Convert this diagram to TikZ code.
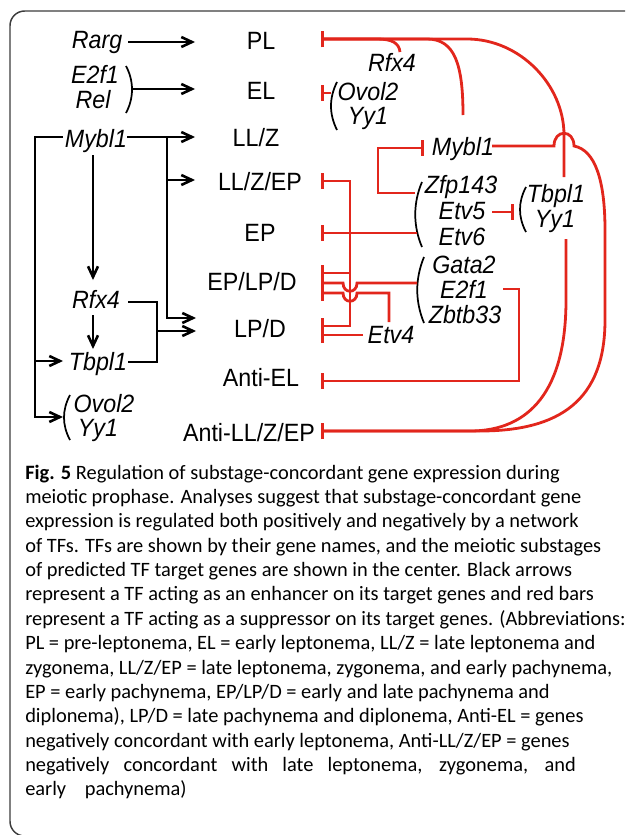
\documentclass[tikz,border=0pt]{standalone}
\usepackage{fontspec}
\setmainfont{Liberation Sans}
\newfontfamily\dfont[FakeStretch=0.93]{Liberation Sans}
\newfontfamily\capfont{Carlito}
\usetikzlibrary{arrows.meta}
\definecolor{tfred}{RGB}{226,38,28}
\definecolor{framegray}{RGB}{60,60,60}
\newcommand\dsz{\fontsize{18.75pt}{22pt}\selectfont}
\newcommand\csz{\fontsize{15.3pt}{18pt}\selectfont}
\tikzset{
 lab/.style={font=\dfont\dsz, inner sep=0pt, anchor=base},
 gene/.style={font=\dfont\dsz\itshape, inner sep=0pt, anchor=base},
 capl/.style={font=\capfont\csz, inner sep=0pt, anchor=base west},
 blk/.style={draw=black, line width=1.95pt},
 enh/.style={blk, -{Straight Barb[length=8pt,width=7.5pt]}},
 rline/.style={draw=tfred, line width=2.1pt},
 sup/.style={rline, -{Bar[width=12pt]}},
 paren/.style={draw=black, line width=1.3pt},
}
\begin{document}
\begin{tikzpicture}[x=0.75pt,y=-0.75pt]
\useasboundingbox (0,0) rectangle (625,835);
\clip (0,0) rectangle (625,835);
% frame
\draw[framegray, line width=1.1pt, rounded corners=11pt] (660,11) -- (10,11) -- (10,836) -- (660,836);

% ---- left TFs
\node[gene] (rarg) at (97,48) {Rarg};
\node[gene] (e2f1L) at (95,83) {E2f1};
\node[gene] (relL) at (93,108) {Rel};
\node[gene] (mybl1L) at (96,147) {Mybl1};
\node[gene] (rfx4L) at (96,308) {Rfx4};
\node[gene] (tbpl1L) at (98,370) {Tbpl1};
\node[gene] (ovol2L) at (104,412) {Ovol2};
\node[gene] (yy1L) at (98,436) {Yy1};

% ---- substages
\node[lab] (pl) at (261,49) {PL};
\node[lab] (el) at (261,99) {EL};
\node[lab] (llz) at (256,146) {LL/Z};
\node[lab] (llzep) at (260,190) {LL/Z/EP};
\node[lab] (ep) at (260,241) {EP};
\node[lab] (eplpd) at (252,290) {EP/LP/D};
\node[lab] (lpd) at (260,337) {LP/D};
\node[lab] (antiel) at (261,386) {Anti-EL};
\node[lab] (antillz) at (249,441) {Anti-LL/Z/EP};

% ---- right TFs
\node[gene] (rfx4R) at (392,71) {Rfx4};
\node[gene] (ovol2R) at (368,100) {Ovol2};
\node[gene] (yy1R) at (368,124) {Yy1};
\node[gene] (mybl1R) at (463,155) {Mybl1};
\node[gene] (zfp143) at (461,193) {Zfp143};
\node[gene] (etv5) at (462,219) {Etv5};
\node[gene] (etv6) at (462,245) {Etv6};
\node[gene] (tbpl1R) at (556,202) {Tbpl1};
\node[gene] (yy1R2) at (555,227) {Yy1};
\node[gene] (gata2) at (464,273) {Gata2};
\node[gene] (e2f1R) at (464,298) {E2f1};
\node[gene] (zbtb33) at (465,323) {Zbtb33};
\node[gene] (etv4) at (391,343) {Etv4};

% ---- parentheses (group brackets)
\draw[paren] (126,66) .. controls (134,81) and (134,98) .. (126,113);
\draw[paren] (70,395) .. controls (62,410) and (62,425) .. (70,440);
\draw[paren] (337,82) .. controls (329,98) and (329,114) .. (337,130);
\draw[paren] (422,182) .. controls (413,203) and (413,226) .. (422,247);
\draw[paren] (424,257) .. controls (415,279) and (415,301) .. (424,323);
\draw[paren] (526,187) .. controls (518,202) and (518,217) .. (526,232);

% ---- black enhancer arrows
\draw[enh] (128,42) -- (195,42);
\draw[enh] (132,89) -- (195,89);
\draw[enh] (127,137) -- (195,137);
\draw[enh] (63,137) -- (35,137) -- (35,417) -- (63,417);
\draw[enh] (35,361) -- (63,361);
\draw[enh] (167,137) -- (167,318) -- (196,318);
\draw[enh] (167,180) -- (195,180);
\draw[enh] (93,155) -- (93,280);
\draw[enh] (93,315) -- (93,349);
\draw[blk] (128,302) -- (157,302) -- (157,362) -- (128,362);
\draw[enh] (157,331) -- (196,331);

% ---- red suppressor bars
% to PL
\draw[sup] (400,52) .. controls (399,43) and (392,39) .. (377,39) -- (321,39);
\draw[sup] (463,115) .. controls (463,65) and (455,39) .. (427,39) -- (321,39);
\draw[sup] (564,177) -- (564,135) .. controls (564,85) and (520,39) .. (467,39) -- (321,39);
% to EL
\draw[sup] (331,93) -- (321,93);
% Zfp143 group -> Mybl1
\draw[sup] (415,193) -- (378,193) -- (378,148) -- (424,148);
% Zfp143 group -> EP and the shared bus
\draw[sup] (417,233) -- (321,233);
\draw[sup] (350,233) -- (350,181) -- (321,181);
\draw[sup] (350,233) -- (350,326) -- (321,326);
\draw[sup] (350,273) -- (321,273);
% Gata2 group -> EP/LP/D
\draw[sup] (417,283) -- (357,283) .. controls (357,294) and (343,294) .. (343,283) -- (321,283);
% Etv4 -> EP/LP/D and LP/D
\draw[sup] (389,322) -- (389,293) -- (357,293) .. controls (357,304) and (343,304) .. (343,293) -- (321,293);
\draw[sup] (363,335) -- (321,335);
% E2f1 -> Anti-EL
\draw[sup] (503,289) -- (519,289) -- (519,381) -- (321,381);
% Etv5 -| Tbpl1/Yy1
\draw[sup] (492,212) -- (514,212);
% Yy1 -> Anti-LL/Z/EP
\draw[sup] (566,239) -- (566,300) .. controls (566,390) and (530,431) .. (470,431) -- (321,431);
% Mybl1 -> Anti-LL/Z/EP (with hop)
\draw[sup] (492,146) -- (554,146) .. controls (554,129) and (574,129) .. (574,146) .. controls (595,150) and (605,180) .. (605,230) -- (605,320) .. controls (605,400) and (560,431) .. (480,431) -- (321,431);

% ---- caption
\node[capl] (c1) at (25,479) {\textbf{Fig. 5} Regulation of substage-concordant gene expression during};
\node[capl] (c2) at (25,503.4) {meiotic prophase. Analyses suggest that substage-concordant gene};
\node[capl] (c3) at (25,527.8) {expression is regulated both positively and negatively by a network};
\node[capl] (c4) at (25,552.1) {of TFs. TFs are shown by their gene names, and the meiotic substages};
\node[capl] (c5) at (25,576.5) {of predicted TF target genes are shown in the center. Black arrows};
\node[capl] (c6) at (25,600.9) {represent a TF acting as an enhancer on its target genes and red bars};
\node[capl] (c7) at (25,625.3) {represent a TF acting as a suppressor on its target genes. (Abbreviations:};
\node[capl] (c8) at (25,649.7) {PL = pre-leptonema, EL = early leptonema, LL/Z = late leptonema and};
\node[capl] (c9) at (25,674.0) {zygonema, LL/Z/EP = late leptonema, zygonema, and early pachynema,};
\node[capl] (c10) at (25,698.4) {EP = early pachynema, EP/LP/D = early and late pachynema and};
\node[capl] (c11) at (25,722.8) {diplonema), LP/D = late pachynema and diplonema, Anti-EL = genes};
\node[capl] (c12) at (25,747.2) {negatively concordant with early leptonema, Anti-LL/Z/EP = genes};
\node[capl] (c13) at (25,771.6) {\makebox[413pt][s]{negatively concordant with late leptonema, zygonema, and}};
\node[capl] (c14) at (25,795.9) {\makebox[121pt][s]{early pachynema)}};
\end{tikzpicture}
\end{document}
